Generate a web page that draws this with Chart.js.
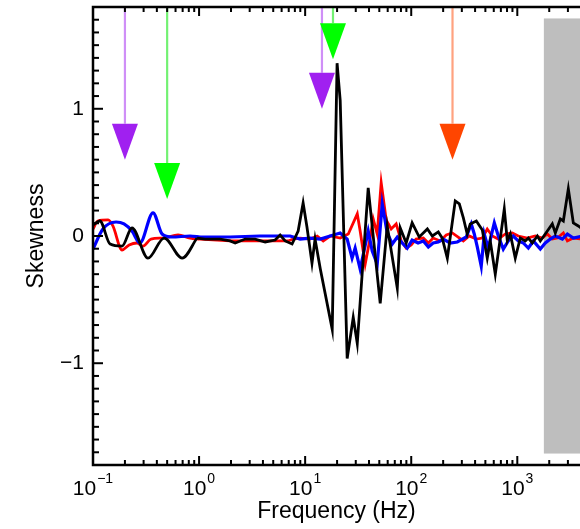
<!DOCTYPE html>
<html>
<head>
<meta charset="utf-8">
<script src="https://cdn.jsdelivr.net/npm/chart.js@4.4.1/dist/chart.umd.min.js"></script>
<style>
  html, body { margin: 0; padding: 0; background: #fff; }
  #wrap { width: 580px; height: 529px; }
</style>
</head>
<body>
<div id="wrap"><canvas id="skewChart"></canvas></div>
<script>
// Skewness vs frequency (Hz / dimensionless)
// low-frequency parts are smooth, the rest is jagged
const blackLowFreq = [0.1, 0.116, 0.145, 0.188, 0.233, 0.33, 0.468, 0.692, 0.957];
const blackLowSkew = [0.087, 0.118, -0.063, -0.079, 0.063, -0.174, -0.016, -0.174, -0.016];
const blackFreq = [0.957, 1.14, 1.58, 1.96, 2.19, 2.72, 3.37, 4.2, 5.21, 5.81, 6.48, 7.53, 8.59, 9.57,
    10.4, 11.6, 12.4, 13.9, 18.0, 20.0, 21.4, 24.9, 28.4, 31.0, 39.3, 51.0, 59.4, 73.9, 78.8, 89.7,
    102, 119, 142, 158, 180, 196, 219, 260, 284, 310, 337, 360, 411, 468, 521, 556, 620, 692, 754,
    805, 859, 957, 1067, 1189, 1270, 1386, 1545, 1648, 1919, 2138, 2282, 2545, 2716, 3027, 3374, 3758, 4100];
const blackSkew = [-0.016, -0.024, -0.024, -0.039, -0.055, -0.024, -0.024, -0.047, -0.032, 0.008, -0.039, -0.063, 0.039, 0.260,
    0.071, -0.213, -0.024, -0.260, -0.734, 1.358, 1.066, -0.963, -0.639, -0.845, 0.379, -0.529, 0.079, -0.410, 0.063, -0.055,
    0.103, -0.008, 0.055, 0, 0.032, -0.016, -0.174, 0.276, 0.253, 0.142, 0.016, 0.095, 0.118, 0.047, -0.174, -0.039, -0.300, -0.016, 0.213,
    -0.039, 0.016, -0.174, -0.016, -0.039, -0.016, -0.055, 0, -0.039, 0.039, 0.095, 0.024, 0.134, 0.118, 0.371, 0.103, 0.079, 0.055];

const blueLowFreq = [0.1, 0.124, 0.165, 0.196, 0.233, 0.277, 0.368, 0.448, 0.556, 0.822, 1.02];
const blueLowSkew = [-0.103, 0.055, 0.110, 0.095, 0.039, -0.055, 0.182, 0.016, -0.008, 0, -0.008];
const blueFreq = [1.02, 1.96, 3.76, 5.81, 7.21, 8.97, 11.1, 13.9, 17.2, 21.4, 24.9, 27.7, 29.6, 33.0, 37.6, 39.3,
    42.9, 47.8, 53.3, 59.4, 66.2, 73.9, 82.2, 91.6, 102, 116, 130, 145, 161, 180, 200, 233, 272, 303, 330,
    368, 393, 420, 457, 488, 532, 607, 662, 738, 822, 916, 1021, 1140, 1270, 1416, 1648, 1837, 2047, 2282,
    2661, 2965, 3374, 4100];
const blueSkew = [-0.008, -0.008, 0, 0, 0, -0.024, -0.016, -0.024, 0, 0.024, -0.024, -0.174, -0.095, -0.260, -0.039, 0.039,
    -0.118, -0.221, 0.253, 0.024, -0.063, -0.008, -0.055, -0.095, -0.032, -0.055, -0.039, -0.087, -0.055, -0.047, -0.024, -0.055, -0.047, -0.024, -0.008,
    0.095, 0.016, -0.087, -0.237, 0.016, -0.095, 0.103, 0, -0.103, -0.039, 0, -0.039, -0.055, -0.095, -0.039, -0.103, -0.055, -0.024, 0,
    -0.024, 0.016, -0.016, 0];

const redLowFreq = [0.1, 0.111, 0.139, 0.154, 0.188, 0.219, 0.26, 0.296, 0.352, 0.457, 0.634, 0.822, 1.02];
const redLowSkew = [0.055, 0.118, 0.126, 0.079, -0.110, -0.071, -0.055, -0.079, -0.024, -0.016, 0.008, -0.016, -0.024];
const redFreq = [1.02, 1.96, 3.76, 6.92, 7.71, 8.97, 11.1, 13.0, 14.8, 17.2, 21.4, 25.5, 31.0, 33.0, 36.8, 41.0,
    43.8, 47.8, 52.1, 58.1, 64.7, 72.1, 80.5, 89.7, 100, 111, 130, 145, 161, 188, 214, 244, 277, 310, 352,
    411, 468, 521, 581, 662, 771, 897, 1021, 1242, 1479, 1722, 1919, 2138, 2384, 2716, 2965, 3374, 4100];
const redSkew = [-0.024, -0.039, -0.039, -0.039, -0.024, -0.016, -0.024, 0, -0.039, 0, -0.016, 0.016, 0.174, 0.039, -0.221, -0.016,
    0.134, 0.016, 0.418, 0.126, 0.055, 0.095, -0.039, -0.095, -0.071, -0.024, -0.016, -0.055, -0.016, -0.039, 0.008, 0.024, -0.008, -0.039, 0,
    -0.024, -0.016, 0.055, 0, -0.024, 0.016, 0.024, 0, -0.016, 0, -0.016, 0.016, -0.024, -0.016, 0.024, -0.039, -0.016, -0.024];

// axis labels
const decadeValues = [0.1, 1, 10, 100, 1000];
const decadeExponents = ['\u22121', '0', '1', '2', '3'];
const yLabelValues = [-1, 0, 1];
const yLabelTexts = ['\u22121', '0', '1'];

// arrows: frequency and skewness at the arrow tip
const arrowFreqs = [0.2, 0.5, 14.4, 18.3, 245];
const arrowTips = [0.60, 0.29, 1.00, 1.39, 0.60];
const arrowColors = ['#a020f0', '#00ff00', '#a020f0', '#00ff00', '#ff4500'];
const arrowLineColors = ['rgba(160,32,240,0.5)', 'rgba(0,230,0,0.55)', 'rgba(160,32,240,0.5)', 'rgba(0,230,0,0.55)', 'rgba(255,69,0,0.5)'];

// shaded band at high frequency
const bandFrom = 1780;
const bandTop = 1.71;
const bandBottom = -1.71;

const FONT = '"Liberation Sans", Arial, Helvetica, sans-serif';
Chart.defaults.color = '#000';

function series(fs, ss, color, width, smooth) {
    return {
        data: fs.map((f, i) => ({x: f, y: ss[i]})),
        borderColor: color,
        borderWidth: width,
        pointRadius: 0,
        showLine: true,
        fill: false,
        cubicInterpolationMode: smooth ? 'monotone' : 'default',
        tension: 0
    };
}

const axisDecor = {
    id: 'axisDecor',
    beforeDatasetsDraw(chart) {
        const {ctx, chartArea: a, scales: {x, y}} = chart;
        ctx.save();
        const bx = x.getPixelForValue(bandFrom);
        const bt = y.getPixelForValue(bandTop);
        const bb = y.getPixelForValue(bandBottom);
        ctx.fillStyle = '#bebebe';
        ctx.fillRect(bx, bt, a.right - bx, bb - bt);

        arrowFreqs.forEach((f, i) => {
            const px = x.getPixelForValue(f);
            const tip = y.getPixelForValue(arrowTips[i]);
            const head = tip - 36;
            ctx.strokeStyle = arrowLineColors[i];
            ctx.lineWidth = 2.2;
            ctx.beginPath();
            ctx.moveTo(px, a.top);
            ctx.lineTo(px, head);
            ctx.stroke();
            ctx.fillStyle = arrowColors[i];
            ctx.beginPath();
            ctx.moveTo(px - 13, head);
            ctx.lineTo(px + 13, head);
            ctx.lineTo(px, tip);
            ctx.closePath();
            ctx.fill();
        });
        ctx.restore();
    },
    afterDatasetsDraw(chart) {
        const {ctx, chartArea: a, scales: {x, y}} = chart;
        ctx.save();
        ctx.strokeStyle = '#000';
        ctx.lineWidth = 2.5;
        ctx.beginPath();
        ctx.moveTo(a.right + 2, a.top);
        ctx.lineTo(a.left, a.top);
        ctx.lineTo(a.left, a.bottom);
        ctx.lineTo(a.right + 2, a.bottom);
        ctx.stroke();

        // inward tick marks, top and bottom
        ctx.lineWidth = 2;
        x.ticks.forEach(t => {
            const v = t.value;
            const e = Math.floor(Math.log10(v) + 1e-9);
            const m = v / Math.pow(10, e);
            if (Math.abs(m - Math.round(m)) > 1e-6) return;
            const px = x.getPixelForValue(v);
            if (px > a.right + 1) return;
            const len = Math.round(m) === 1 ? 9 : 5;
            ctx.beginPath();
            ctx.moveTo(px, a.bottom);
            ctx.lineTo(px, a.bottom - len);
            ctx.moveTo(px, a.top);
            ctx.lineTo(px, a.top + len);
            ctx.stroke();
        });
        y.ticks.forEach(t => {
            const py = y.getPixelForValue(t.value);
            const major = Math.abs(t.value - Math.round(t.value)) < 1e-6;
            const len = major ? 10 : 6;
            ctx.beginPath();
            ctx.moveTo(a.left, py);
            ctx.lineTo(a.left + len, py);
            ctx.stroke();
        });

        // decade labels 10^n
        ctx.fillStyle = '#000';
        ctx.textAlign = 'left';
        ctx.textBaseline = 'alphabetic';
        decadeValues.forEach((v, i) => {
            const px = x.getPixelForValue(v);
            ctx.font = '21px ' + FONT;
            const w1 = ctx.measureText('10').width;
            ctx.font = '14px ' + FONT;
            const w2 = ctx.measureText(decadeExponents[i]).width;
            const start = px - (w1 + w2 + 1) / 2;
            ctx.font = '21px ' + FONT;
            ctx.fillText('10', start, a.bottom + 30);
            ctx.font = '14px ' + FONT;
            ctx.fillText(decadeExponents[i], start + w1 + 1, a.bottom + 18);
        });
        ctx.restore();
    }
};

new Chart(document.getElementById('skewChart'), {
    type: 'scatter',
    data: {
        datasets: [
            series(blackLowFreq, blackLowSkew, '#000000', 2.8, true),
            series(blackFreq, blackSkew, '#000000', 2.8, false),
            series(blueLowFreq, blueLowSkew, '#0000ff', 3.2, true),
            series(blueFreq, blueSkew, '#0000ff', 3.2, false),
            series(redLowFreq, redLowSkew, '#ff0000', 2.8, true),
            series(redFreq, redSkew, '#ff0000', 2.8, false)
        ]
    },
    options: {
        responsive: true,
        maintainAspectRatio: false,
        animation: false,
        layout: { padding: { top: 7, right: 0, bottom: 0, left: 0 } },
        plugins: { legend: { display: false }, tooltip: { enabled: false } },
        scales: {
            x: {
                type: 'logarithmic',
                min: 0.1,
                max: 3900,
                grid: { display: false, drawTicks: false },
                border: { display: false },
                ticks: { display: false },
                title: { display: true, text: 'Frequency (Hz)', font: { family: FONT, size: 23 }, color: '#000', padding: { top: 0, bottom: 4 } },
                afterFit(scale) {
                    scale.height = 64;
                    scale.paddingLeft = 0;
                    scale.paddingRight = 0;
                }
            },
            y: {
                min: -1.8,
                max: 1.8,
                grid: { display: false, drawTicks: false },
                border: { display: false },
                ticks: {
                    stepSize: 0.1,
                    autoSkip: false,
                    padding: 9,
                    font: { family: FONT, size: 21 },
                    color: '#000',
                    callback(v) {
                        const i = yLabelValues.findIndex(t => Math.abs(t - v) < 1e-6);
                        return i < 0 ? '' : yLabelTexts[i];
                    }
                },
                title: { display: true, text: 'Skewness', font: { family: FONT, size: 23 }, color: '#000', padding: { top: 23, bottom: 0 } },
                afterFit(scale) {
                    scale.width = 93;
                    scale.paddingTop = 0;
                    scale.paddingBottom = 0;
                }
            }
        }
    },
    plugins: [axisDecor]
});
</script>
</body>
</html>
